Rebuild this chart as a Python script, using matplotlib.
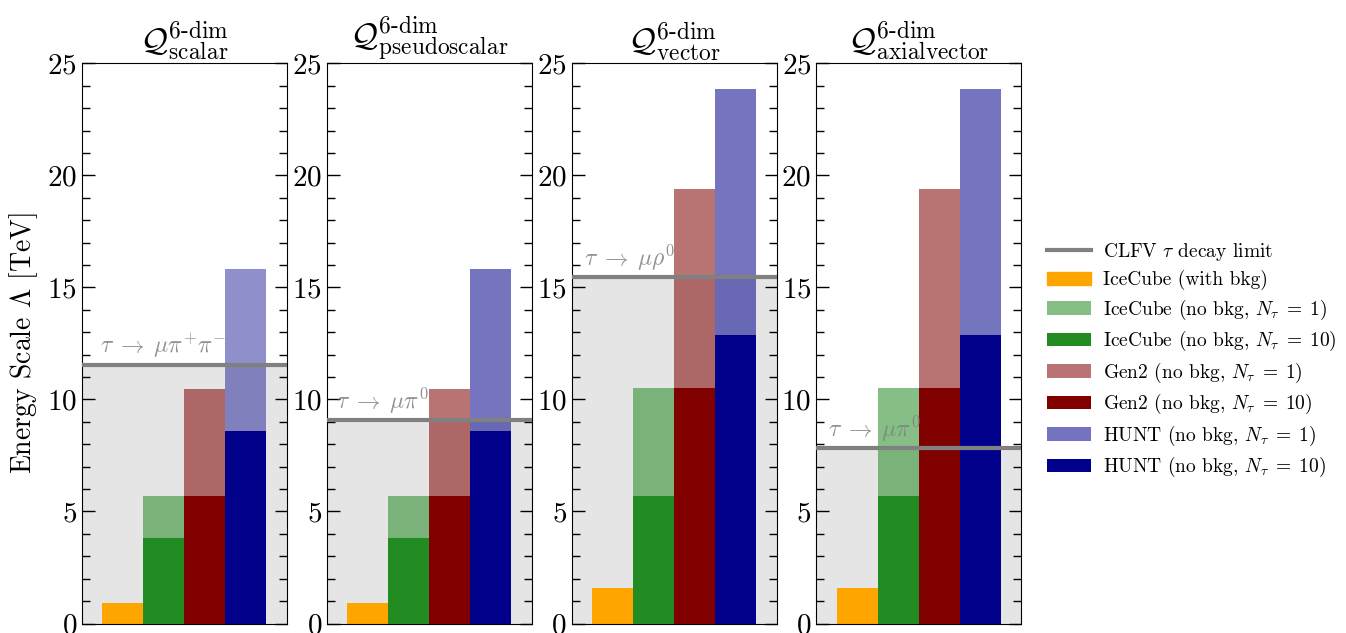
import matplotlib
matplotlib.use("Agg")
import matplotlib.pyplot as plt
from matplotlib.lines import Line2D
from matplotlib.patches import Patch
from matplotlib.ticker import MultipleLocator

plt.rcParams["font.family"] = "serif"
plt.rcParams["font.serif"] = ["cmr10"]
plt.rcParams["mathtext.fontset"] = "cm"
plt.rcParams["axes.unicode_minus"] = False
plt.rcParams["axes.formatter.use_mathtext"] = True

# operator panels
operators = ["scalar", "pseudoscalar", "vector", "axialvector"]
decay_labels = [r"$\tau\;\rightarrow\;\mu\pi^{+}\pi^{-}$", r"$\tau\;\rightarrow\;\mu\pi^{0}$",
                r"$\tau\;\rightarrow\;\mu\rho^{0}$", r"$\tau\;\rightarrow\;\mu\pi^{0}$"]
clfv_limit = [11.55, 9.08, 15.46, 7.82]

# energy scale reach [TeV]
icecube_bkg = [0.93, 0.93, 1.58, 1.58]
icecube_n1 = [5.7, 5.7, 10.5, 10.5]
icecube_n10 = [3.83, 3.83, 5.7, 5.7]
gen2_n1 = [10.46, 10.46, 19.4, 19.4]
gen2_n10 = [5.7, 5.7, 10.5, 10.5]
hunt_n1 = [15.8, 15.8, 23.87, 23.87]
hunt_n10 = [8.6, 8.6, 12.87, 12.87]
hunt_n1_alpha = [0.44, 0.545, 0.545, 0.545]

c_ice = "orange"
c_green = "forestgreen"
c_red = "maroon"
c_blue = "darkblue"
light_alpha = 0.55

fig = plt.figure(figsize=(13.46, 6.33), dpi=100)
lefts = [0.0609, 0.2429, 0.4247, 0.6063]
label_x = [-0.55, -0.78, -0.7, -0.72]

for i, op in enumerate(operators):
    ax = fig.add_axes([lefts[i], 0.015, 0.1523, 0.885])
    ax.set_xlim(-1, 4)
    ax.set_ylim(0, 25)

    # excluded region below current CLFV limit
    ax.axhspan(0, clfv_limit[i], color="gray", alpha=0.2, lw=0, zorder=0)
    ax.axhline(clfv_limit[i], color="gray", lw=3, zorder=4)
    ax.text(label_x[i], clfv_limit[i] + 0.2, decay_labels[i], color="gray",
            fontsize=17, ha="left", va="bottom", alpha=0.85, zorder=5)

    ax.bar(0, icecube_bkg[i], width=1, color=c_ice, zorder=2)
    ax.bar(1, icecube_n1[i], width=1, color=c_green, alpha=light_alpha, lw=0, zorder=2)
    ax.bar(1, icecube_n10[i], width=1, color=c_green, lw=0, zorder=3)
    ax.bar(2, gen2_n1[i], width=1, color=c_red, alpha=light_alpha, lw=0, zorder=2)
    ax.bar(2, gen2_n10[i], width=1, color=c_red, lw=0, zorder=3)
    ax.bar(3, hunt_n1[i], width=1, color=c_blue, alpha=hunt_n1_alpha[i], lw=0, zorder=2)
    ax.bar(3, hunt_n10[i], width=1, color=c_blue, lw=0, zorder=3)

    ax.set_xticks([])
    ax.yaxis.set_major_locator(MultipleLocator(5))
    ax.yaxis.set_minor_locator(MultipleLocator(1))
    ax.tick_params(axis="y", which="both", direction="in", left=True, right=True,
                   labelsize=21, width=1)
    ax.tick_params(axis="y", which="major", length=9)
    ax.tick_params(axis="y", which="minor", length=6)
    ax.set_title(r"$\mathcal{Q}^{\mathrm{6\text{-}dim}}_{\mathrm{%s}}$" % op,
                 fontsize=24, pad=3)
    if i == 0:
        ax.set_ylabel(r"Energy Scale $\Lambda$ [TeV]", fontsize=20)
        ax.yaxis.set_label_coords(-0.205, 0.5)

handles = [
    Line2D([], [], color="gray", lw=3),
    Patch(color=c_ice),
    Patch(color=c_green, alpha=light_alpha, lw=0),
    Patch(color=c_green, lw=0),
    Patch(color=c_red, alpha=light_alpha, lw=0),
    Patch(color=c_red, lw=0),
    Patch(color=c_blue, alpha=light_alpha, lw=0),
    Patch(color=c_blue, lw=0),
]
labels = [
    r"CLFV $\tau$ decay limit",
    "IceCube (with bkg)",
    r"IceCube (no bkg, $N_\tau\;=\;1$)",
    r"IceCube (no bkg, $N_\tau\;=\;10$)",
    r"Gen2 (no bkg, $N_\tau\;=\;1$)",
    r"Gen2 (no bkg, $N_\tau\;=\;10$)",
    r"HUNT (no bkg, $N_\tau\;=\;1$)",
    r"HUNT (no bkg, $N_\tau\;=\;10$)",
]
fig.legend(handles, labels, loc="center left", bbox_to_anchor=(0.7645, 0.431),
           frameon=False, fontsize=14, handlelength=2.3, labelspacing=0.38,
           handletextpad=0.6)

fig.savefig("out.png", dpi=100)
